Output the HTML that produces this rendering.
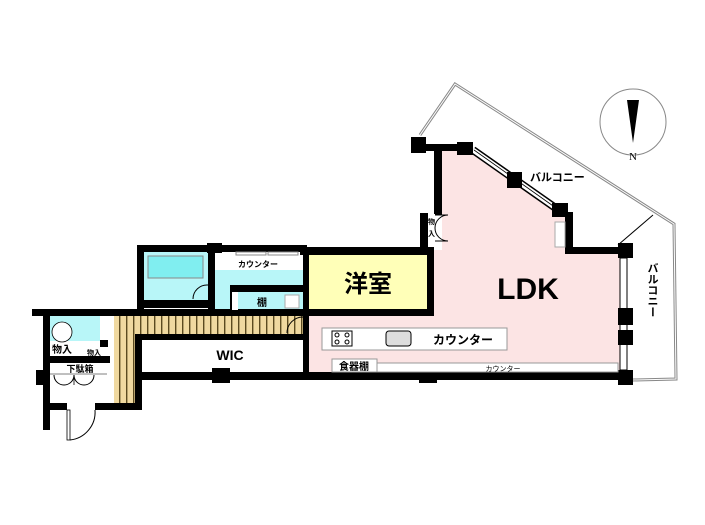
<!DOCTYPE html>
<html><head><meta charset="utf-8"><style>
html,body{margin:0;padding:0;background:#fff;}
svg{display:block;}
text{font-family:"Liberation Sans","Noto Sans CJK JP",sans-serif;font-weight:bold;fill:#000;}
</style></head><body>
<svg width="705" height="525" viewBox="0 0 705 525" xmlns="http://www.w3.org/2000/svg">
<polyline points="420,135 455,84 674,224 676,379 633,380" fill="none" stroke="#888" stroke-width="3"/>
<polyline points="420,135 455,84 674,224 676,379 633,380" fill="none" stroke="#fff" stroke-width="1"/>
<line x1="618" y1="245" x2="653" y2="215" stroke="#000" stroke-width="1"/>
<circle cx="633" cy="122" r="33" fill="#fff" stroke="#888" stroke-width="1"/>
<polygon points="627,100 639,100 633,143" fill="#000"/>
<text x="633" y="160" font-size="11" text-anchor="middle" style="font-family:'Liberation Serif',serif;font-weight:normal">N</text>
<polygon points="442,150 473,150 565,215 570,253 620,253 620,372 308,372 308,316 434,316 434,250 442,250" fill="#fce4e4"/>
<rect x="308" y="255" width="120" height="55" fill="#ffffb8"/>
<rect x="144" y="252" width="64" height="48" fill="#b8f6f8"/>
<rect x="148" y="256" width="55" height="22" fill="#80eef0" stroke="#888" stroke-width="1"/>
<rect x="215" y="270" width="88" height="40" fill="#b8f6f8"/>
<rect x="238" y="292" width="62" height="18" fill="#b8f6f8"/>
<rect x="50" y="316" width="50" height="25" fill="#b8f6f8"/>
<defs><pattern id="h" width="7" height="10" patternUnits="userSpaceOnUse"><rect width="7" height="10" fill="#f0d9a0"/><rect width="1.4" height="10" fill="#5b4a20"/></pattern></defs>
<rect x="114" y="316" width="190" height="18" fill="url(#h)"/>
<rect x="114" y="316" width="23" height="88" fill="url(#h)"/>
<g fill="#000">
<rect x="137" y="245" width="170" height="7"/>
<rect x="137" y="245" width="7" height="70"/>
<rect x="207" y="243" width="15" height="10"/>
<rect x="208" y="252" width="7" height="60"/>
<rect x="137" y="300" width="78" height="8"/>
<rect x="230" y="285" width="8" height="27"/>
<rect x="230" y="285" width="73" height="7"/>
<rect x="32" y="309" width="276" height="7"/>
<rect x="300" y="247" width="134" height="8"/>
<rect x="303" y="247" width="6" height="125"/>
<rect x="427" y="247" width="7" height="69"/>
<rect x="308" y="309" width="126" height="7"/>
<rect x="434" y="145" width="8" height="70"/>
<rect x="420" y="213" width="8" height="37"/>
<rect x="411" y="137" width="15" height="16"/>
<rect x="426" y="144" width="47" height="7"/>
<rect x="457" y="142" width="16" height="13"/>
<rect x="565" y="212" width="8" height="42"/>
<rect x="565" y="247" width="68" height="7"/>
<rect x="618" y="243" width="15" height="15"/>
<rect x="140" y="372" width="493" height="8"/>
<rect x="212" y="368" width="18" height="15"/>
<rect x="419" y="368" width="18" height="15"/>
<rect x="142" y="334" width="166" height="6"/>
<rect x="135" y="334" width="7" height="76"/>
<rect x="43" y="310" width="7" height="120"/>
<rect x="36" y="370" width="14" height="15"/>
<rect x="50" y="356" width="60" height="7"/>
<rect x="100" y="340" width="8" height="16"/>
<rect x="43" y="403" width="24" height="7"/>
<rect x="95" y="403" width="45" height="7"/>
</g>
<line x1="473" y1="150" x2="557" y2="209" stroke="#000" stroke-width="8"/>
<line x1="473" y1="150" x2="557" y2="209" stroke="#fff" stroke-width="5"/>
<line x1="474" y1="150" x2="556" y2="208" stroke="#000" stroke-width="0.8"/>
<rect x="457" y="142" width="16" height="13" fill="#000"/>
<rect x="507" y="172" width="15" height="16" fill="#000"/>
<rect x="552" y="203" width="16" height="14" fill="#000"/>
<rect x="620" y="258" width="7" height="112" fill="#fff" stroke="#000" stroke-width="1"/>
<rect x="618" y="308" width="15" height="17" fill="#000"/>
<rect x="618" y="330" width="15" height="15" fill="#000"/>
<rect x="618" y="370" width="15" height="15" fill="#000"/>
<rect x="555" y="222" width="10" height="25" fill="#fff" stroke="#aaa" stroke-width="1"/>
<rect x="428" y="214" width="7" height="28" fill="#fff"/>
<path d="M435,228 a13,13 0 0 1 13,-13 L435,215 M435,228 a13,13 0 0 0 13,13 L435,241" fill="#fff" stroke="#000" stroke-width="1"/>
<text x="431.5" y="224" font-size="7" text-anchor="middle">物</text>
<text x="431.5" y="236" font-size="7" text-anchor="middle">入</text>
<rect x="322" y="328" width="185" height="22" fill="#fff" stroke="#999" stroke-width="1"/>
<rect x="332" y="331" width="20" height="15" fill="#fff" stroke="#000" stroke-width="1"/>
<circle cx="337" cy="335" r="2" fill="none" stroke="#000"/><circle cx="347" cy="335" r="2" fill="none" stroke="#000"/>
<circle cx="337" cy="342" r="2" fill="none" stroke="#000"/><circle cx="347" cy="342" r="2" fill="none" stroke="#000"/>
<rect x="386" y="331" width="25" height="15" rx="3" fill="#ddd" stroke="#000" stroke-width="1"/>
<text x="463" y="344" font-size="12" text-anchor="middle">カウンター</text>
<rect x="332" y="359" width="45" height="13" fill="#fff" stroke="#999" stroke-width="1"/>
<text x="354" y="370" font-size="10" text-anchor="middle">食器棚</text>
<rect x="377" y="363" width="241" height="9" fill="#fff" stroke="#999" stroke-width="1"/>
<text x="503" y="371" font-size="7" text-anchor="middle" style="font-weight:normal">カウンター</text>
<rect x="232" y="292" width="6" height="18" fill="#fff"/>
<rect x="285" y="295" width="14" height="13" fill="#fff" stroke="#aaa" stroke-width="1"/>
<rect x="236" y="252" width="30" height="3" fill="#fff" stroke="#888" stroke-width="1"/>
<rect x="268" y="252" width="30" height="3" fill="#fff" stroke="#888" stroke-width="1"/>
<text x="258" y="267" font-size="8" text-anchor="middle">カウンター</text>
<text x="262" y="306" font-size="10" text-anchor="middle">棚</text>
<path d="M193,299 a14,14 0 0 1 15,-14" fill="none" stroke="#000" stroke-width="1"/>
<path d="M287,333 a16,16 0 0 1 16,-16" fill="none" stroke="#000" stroke-width="1"/>
<path d="M52,332 a10,10 0 0 1 20,0 M52,332 a10,10 0 0 0 20,0" fill="#fff" stroke="#000" stroke-width="0.8"/>
<rect x="50" y="363" width="57" height="40" fill="#fff"/>
<line x1="50" y1="374" x2="107" y2="374" stroke="#000" stroke-width="0.5"/>
<path d="M54,375 a10,10 0 0 0 20,0 M74,375 a10,10 0 0 0 20,0" fill="none" stroke="#000" stroke-width="1"/>
<line x1="74" y1="375" x2="74" y2="385" stroke="#000" stroke-width="0.8"/>
<text x="80" y="372" font-size="9" text-anchor="middle">下駄箱</text>
<text x="62" y="353" font-size="10" text-anchor="middle">物入</text>
<rect x="80" y="347" width="30" height="9" fill="#fff"/>
<text x="94" y="355" font-size="7" text-anchor="middle">物入</text>
<rect x="67" y="410" width="3" height="30" fill="#fff" stroke="#000" stroke-width="0.8"/>
<path d="M70,440 a28,28 0 0 0 25,-30" fill="none" stroke="#000" stroke-width="1"/>
<text x="230" y="360" font-size="14" text-anchor="middle">WIC</text>
<text x="368" y="292" font-size="24" text-anchor="middle">洋室</text>
<text x="528" y="299" font-size="30" text-anchor="middle">LDK</text>
<text x="530" y="181" font-size="11">バルコニー</text>
<text x="652" y="290" font-size="11" text-anchor="middle" writing-mode="tb">バルコニー</text>
</svg>
</body></html>
